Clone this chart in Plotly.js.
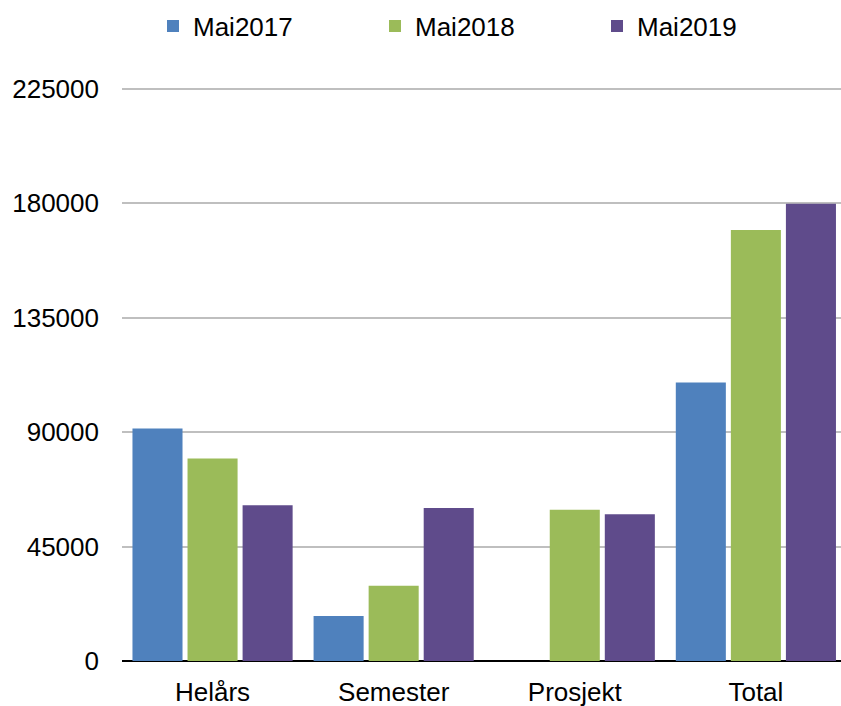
<!DOCTYPE html>
<html>
<head>
<meta charset="utf-8">
<script src="https://cdn.plot.ly/plotly-3.0.1.min.js"></script>
<style>html,body{margin:0;padding:0;background:#fff;}#chart{width:841px;height:706px;}</style>
</head>
<body>
<div id="chart"></div>
<script>
const categories = ["Helårs", "Semester", "Prosjekt", "Total"];
const seriesNames = ["Mai2017", "Mai2018", "Mai2019"];
const mai2017 = [91400, 17700, 0, 109500];
const mai2018 = [79600, 29600, 59400, 169400];
const mai2019 = [61200, 60100, 57700, 179700];
const yTicks = [0, 45000, 90000, 135000, 180000, 225000];
const colors = ["#4F81BD", "#9BBB59", "#5F4B8B"];

const seriesValues = [mai2017, mai2018, mai2019];
const font = {family: "Liberation Sans, Arial, sans-serif", size: 26, color: "#000"};

const data = seriesValues.map((vals, i) => ({
  type: "bar",
  name: seriesNames[i],
  x: categories,
  y: vals,
  marker: {color: colors[i], line: {width: 0}},
  hoverinfo: "x+y+name"
}));

const layout = {
  width: 841,
  height: 706,
  margin: {l: 122, r: 0, t: 86, b: 45, pad: 0},
  paper_bgcolor: "#fff",
  plot_bgcolor: "#fff",
  font: font,
  barmode: "group",
  bargap: 0.088,
  bargroupgap: 0.091,
  showlegend: true,
  legend: {
    orientation: "h",
    xref: "container",
    yref: "container",
    x: 153 / 841,
    xanchor: "left",
    y: 1 - 26 / 706,
    yanchor: "middle",
    entrywidthmode: "pixels",
    entrywidth: 177,
    font: font,
    bgcolor: "rgba(0,0,0,0)",
    traceorder: "normal"
  },
  xaxis: {
    type: "category",
    range: [-0.5, 3.47],
    showgrid: false,
    zeroline: false,
    showline: false,
    ticks: "",
    tickfont: font,
    ticklabelstandoff: 13
  },
  yaxis: {
    range: [0, 226000],
    tickmode: "array",
    tickvals: yTicks,
    ticktext: yTicks.map(String),
    showgrid: true,
    gridcolor: "#BFBFBF",
    gridwidth: 2,
    zeroline: true,
    zerolinecolor: "#000",
    zerolinewidth: 2,
    showline: false,
    ticks: "",
    tickfont: font,
    ticklabelstandoff: 22
  }
};

Plotly.newPlot("chart", data, layout, {displayModeBar: false, staticPlot: true});
</script>
</body>
</html>
